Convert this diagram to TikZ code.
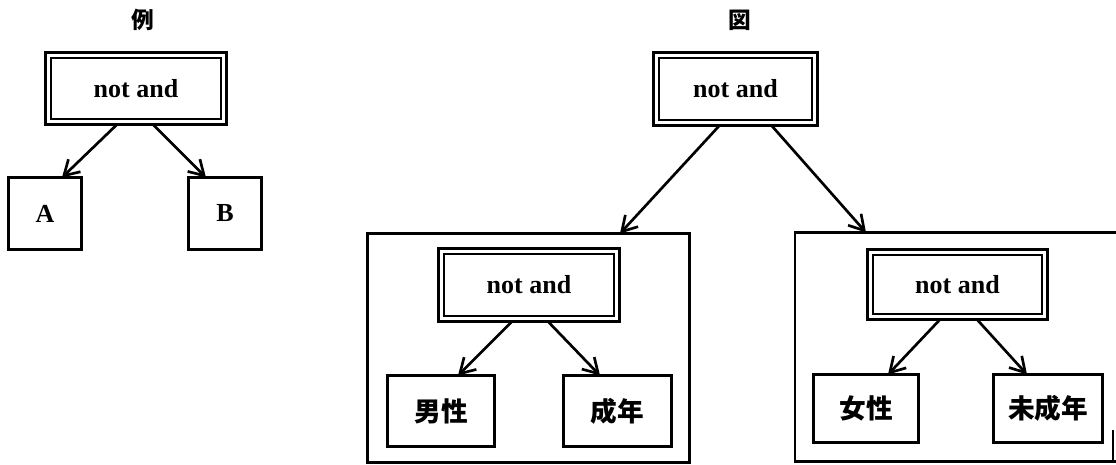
\documentclass[tikz,border=0pt]{standalone}
\usepackage{fontspec}
\setmainfont{Liberation Serif}
\newfontfamily\cjk{Noto Sans CJK JP}
\usetikzlibrary{arrows.meta,calc}
\tikzset{
  box/.style={draw, line width=2.2pt, inner sep=0pt, outer sep=0pt, font=\fontsize{19.5}{22}\selectfont\bfseries},
  jbox/.style={box, font=\fontsize{20}{22}\selectfont\cjk\bfseries},
  dblbox/.style={draw, line width=2.8pt, inner sep=0pt, outer sep=0pt, font=\fontsize{19.5}{22}\selectfont\bfseries},
  innerline/.style={line width=1.5pt},
  frame/.style={line width=2pt},
  conn/.style={line width=2pt, -{Straight Barb[length=11pt,width=13pt,line width=2pt]}},
  title/.style={font=\fontsize{17}{20}\selectfont\cjk\bfseries}
}
\begin{document}
\begin{tikzpicture}[x=0.75pt,y=-0.75pt]
\useasboundingbox (0,0) rectangle (1116,464);
% left example
\node[title] (t1) at (143,20) {例};
\node[dblbox, minimum width=181*0.75pt, minimum height=72*0.75pt] (na1) at (136,88.5) {not and};
\node[box, minimum width=73*0.75pt, minimum height=72*0.75pt] (A) at (45,213.5) {A};
\node[box, minimum width=73*0.75pt, minimum height=72*0.75pt] (B) at (225,213.5) {B};
\draw[conn] ($(na1.south)+(-19,0)$) -- ($(A.north)+(17,0)$);
\draw[conn] ($(na1.south)+(17,0)$) -- ($(B.north)+(-19,0)$);
% right figure
\node[title] (t2) at (740,20) {図};
\node[dblbox, minimum width=164*0.75pt, minimum height=73*0.75pt] (na2) at (735.5,89) {not and};
\node[draw, frame, inner sep=0pt, outer sep=0pt, minimum width=322*0.75pt, minimum height=229*0.75pt] (c1) at (528.5,348) {};
\node[inner sep=0pt, outer sep=0pt, minimum width=321*0.75pt, minimum height=229*0.75pt] (c2) at (955.5,347) {};
\draw[frame] (c2.north east) -- (c2.north west) -- (c2.south west) -- (c2.south east);
\draw[line width=1pt] ($(c2.south east)+(-3,0)$) -- ($(c2.south east)+(-3,-32)$);
\draw[conn] ($(na2.south)+(-16,0)$) -- ($(c1.north)+(91.5,0)$);
\draw[conn] ($(na2.south)+(36,0)$) -- ($(c2.north)+(-89.5,0)$);
% left container
\node[dblbox, minimum width=181*0.75pt, minimum height=73*0.75pt] (na3) at (529,285) {not and};
\node[jbox, minimum width=107*0.75pt, minimum height=71*0.75pt] (m) at (441,411) {男性};
\node[jbox, minimum width=108*0.75pt, minimum height=71*0.75pt] (s) at (617.5,411) {成年};
\draw[conn] ($(na3.south)+(-17,0)$) -- ($(m.north)+(17,0)$);
\draw[conn] ($(na3.south)+(19,0)$) -- ($(s.north)+(-17.5,0)$);
% right container
\node[dblbox, minimum width=180*0.75pt, minimum height=70*0.75pt] (na4) at (957.5,284.5) {not and};
\node[jbox, minimum width=105*0.75pt, minimum height=68*0.75pt] (f) at (866,408.5) {女性};
\node[jbox, minimum width=109*0.75pt, minimum height=68*0.75pt] (u) at (1048,408.5) {未成年};
\draw[conn] ($(na4.south)+(-17.5,0)$) -- ($(f.north)+(22,0)$);
\draw[conn] ($(na4.south)+(19.5,0)$) -- ($(u.north)+(-21,0)$);
% inner lines of double boxes
\foreach \n in {na1,na2,na3,na4}
  \draw[innerline] ($(\n.north west)+(5.5,5.5)$) rectangle ($(\n.south east)+(-5.5,-5.5)$);
\end{tikzpicture}
\end{document}
